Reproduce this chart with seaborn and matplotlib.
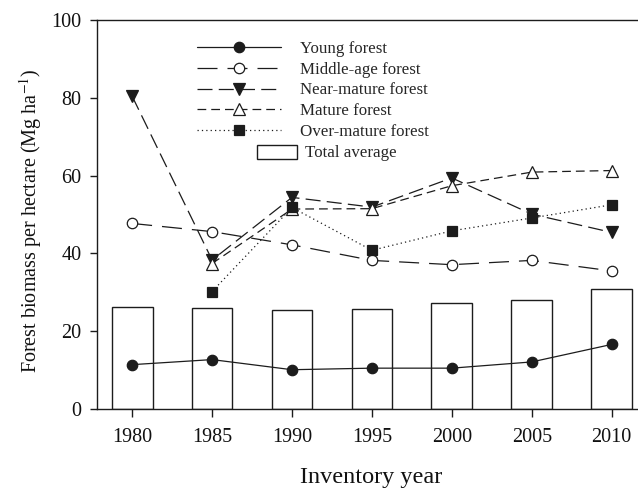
import matplotlib
matplotlib.use("Agg")
import matplotlib.pyplot as plt
from matplotlib.patches import Rectangle
from matplotlib.legend_handler import HandlerPatch
import seaborn as sns

years = [1980, 1985, 1990, 1995, 2000, 2005, 2010]
total_average = [26.2, 25.9, 25.4, 25.8, 27.3, 28.1, 30.9]
young = [11.4, 12.7, 10.1, 10.5, 10.5, 12.1, 16.6]
middle_age = [47.7, 45.6, 42.2, 38.2, 37.1, 38.2, 35.5]
near_mature = [80.4, 38.3, 54.4, 51.9, 59.4, 50.1, 45.4]
mature_years = [1985, 1990, 1995, 2000, 2005, 2010]
mature = [37.4, 51.4, 51.5, 57.4, 60.9, 61.3]
over_mature_years = [1985, 1990, 1995, 2000, 2005, 2010]
over_mature = [30.2, 51.8, 40.8, 45.8, 49.1, 52.5]

sns.set_theme(style="ticks")
plt.rcParams["font.family"] = ["Liberation Serif", "DejaVu Serif"]
plt.rcParams["mathtext.fontset"] = "stix"

fig = plt.figure(figsize=(6.38, 4.88), dpi=100)
ax = fig.add_axes([97/638, 1 - 409/488, 545/638, 389/488])

lc = "#1c1c1c"
sns.barplot(x=years, y=total_average, native_scale=True, width=0.51,
            color="white", edgecolor=lc, linewidth=1.0, ax=ax, zorder=1)

series = [
    ("Young forest", years, young, dict(linestyle="-", marker="o", markerfacecolor=lc, markersize=7.5)),
    ("Middle-age forest", years, middle_age, dict(linestyle=(0, (16, 8)), marker="o", markerfacecolor="white", markersize=7.5)),
    ("Near-mature forest", years, near_mature, dict(linestyle=(0, (12, 5)), marker="v", markerfacecolor=lc, markersize=8)),
    ("Mature forest", mature_years, mature, dict(linestyle=(0, (7, 4)), marker="^", markerfacecolor="white", markersize=8)),
    ("Over-mature forest", over_mature_years, over_mature, dict(linestyle=(0, (1, 2.5)), marker="s", markerfacecolor=lc, markersize=7)),
]
for name, xs, ys, kw in series:
    sns.lineplot(x=xs, y=ys, ax=ax, color=lc, linewidth=0.9,
                 markeredgecolor=lc, markeredgewidth=0.9, label=name, zorder=3, **kw)

ax.set_xlim(1977.8, 2011.9)
ax.set_ylim(0, 100)
ax.set_xticks(years)
ax.set_yticks([0, 20, 40, 60, 80, 100])
ax.tick_params(axis="both", labelsize=14.5, direction="out", length=5, width=1, color=lc, labelcolor="#111111")
ax.tick_params(axis="x", pad=8, length=6)
ax.tick_params(axis="y", pad=6)
for s in ["left", "bottom", "top"]:
    ax.spines[s].set_linewidth(1.0)
    ax.spines[s].set_color(lc)
ax.spines["right"].set_visible(False)
ax.spines["top"].set_visible(True)

ax.set_xlabel("Inventory year", fontsize=17.5, color="#111111")
ax.xaxis.set_label_coords(0.503, -0.148)
ax.set_ylabel("Forest biomass per hectare (Mg ha$^{-1}$)", fontsize=14.5, color="#111111")
ax.yaxis.set_label_coords(-0.098, 0.483)


def small_rect(legend, orig_handle, xdescent, ydescent, width, height, fontsize):
    w = width * 0.47
    return Rectangle((xdescent + width - w + 11, ydescent - 1), w, height + 1)


bar_proxy = Rectangle((0, 0), 1, 1, facecolor="white", edgecolor=lc, linewidth=1.0)
handles, labels = ax.get_legend_handles_labels()
hmap = dict(zip(labels, handles))
hmap["Total average"] = bar_proxy
order = ["Young forest", "Middle-age forest", "Near-mature forest", "Mature forest", "Over-mature forest", "Total average"]
leg = ax.legend([hmap[k] for k in order], order, loc="upper left", bbox_to_anchor=(0.183, 0.947),
                frameon=False, fontsize=12.2, handlelength=5.0, handletextpad=1.1, labelspacing=0.29,
                borderaxespad=0, borderpad=0,
                handler_map={bar_proxy: HandlerPatch(patch_func=small_rect)})
# shift only the "Total average" text slightly right, like the reference
leg.get_texts()[-1].set_position((5, 0))

fig.savefig("out.png", dpi=100)
